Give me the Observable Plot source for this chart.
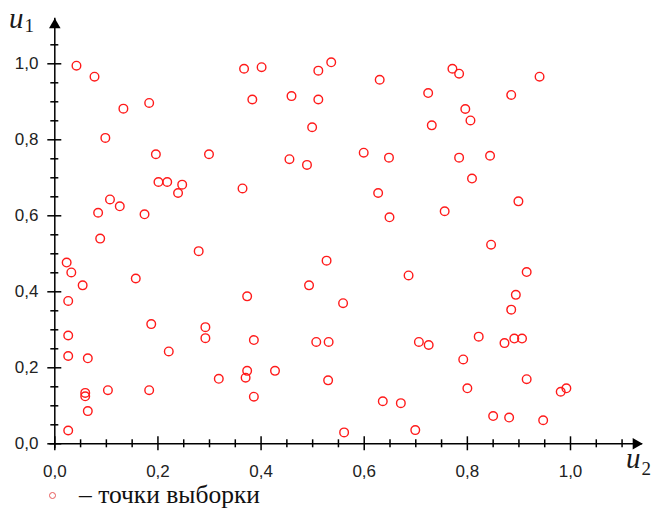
<!DOCTYPE html>
<html><head><meta charset="utf-8">
<script src="https://cdn.jsdelivr.net/npm/d3@7"></script>
<script src="https://cdn.jsdelivr.net/npm/@observablehq/plot@0.6"></script>
<style>
body{margin:0;background:#fff;overflow:hidden;}
#chart{position:relative;width:652px;}
.legend{position:relative;width:652px;height:23px;font-family:"Liberation Serif","Times New Roman",serif;font-size:25.5px;line-height:26px;color:#111;}
.legend .sw{position:absolute;left:49px;top:6px;width:5px;height:5px;border:1px solid #e85a5a;border-radius:50%;}
.legend .lt{position:absolute;left:79px;top:-4.4px;white-space:nowrap;}
</style></head><body>
<div id="chart"></div>
<div class="legend"><span class="sw"></span><span class="lt">– точки выборки</span></div>
<script>
// sample points (u2 horizontal, u1 vertical)
const u2 = [0.042,0.077,0.133,0.183,0.098,0.196,0.299,0.367,0.401,0.511,
            0.536,0.630,0.383,0.459,0.511,0.499,0.455,0.489,0.599,0.648,
            0.771,0.784,0.940,0.724,0.885,0.796,0.806,0.731,0.784,0.844,
            0.201,0.218,0.247,0.239,0.107,0.126,0.084,0.174,0.088,0.279,
            0.023,0.032,0.157,0.054,0.026,0.364,0.627,0.649,0.527,0.686,
            0.493,0.373,0.559,0.809,0.899,0.756,0.846,0.915,0.894,0.885,
            0.187,0.292,0.292,0.026,0.221,0.026,0.064,0.318,0.059,0.059,
            0.103,0.183,0.064,0.026,0.386,0.507,0.531,0.706,0.373,0.370,
            0.427,0.530,0.386,0.636,0.671,0.561,0.699,0.725,0.822,0.872,
            0.891,0.906,0.792,0.915,0.800,0.981,0.992,0.850,0.881,0.947];
const u1 = [0.995,0.966,0.882,0.897,0.805,0.762,0.762,0.987,0.991,0.982,
            1.004,0.958,0.906,0.915,0.906,0.833,0.749,0.734,0.766,0.753,
            0.987,0.974,0.966,0.923,0.918,0.881,0.851,0.838,0.753,0.758,
            0.689,0.689,0.682,0.660,0.643,0.625,0.608,0.604,0.540,0.507,
            0.477,0.451,0.435,0.417,0.376,0.672,0.660,0.596,0.482,0.443,
            0.417,0.388,0.370,0.698,0.638,0.612,0.524,0.452,0.392,0.353,
            0.315,0.307,0.278,0.285,0.243,0.231,0.225,0.171,0.134,0.125,
            0.141,0.141,0.086,0.035,0.273,0.268,0.268,0.268,0.192,0.174,
            0.192,0.167,0.124,0.112,0.107,0.030,0.036,0.260,0.282,0.265,
            0.277,0.277,0.222,0.170,0.146,0.137,0.146,0.073,0.069,0.062];

const xMajor = [0, 0.2, 0.4, 0.6, 0.8, 1.0];
const xLabels = ["0,0", "0,2", "0,4", "0,6", "0,8", "1,0"];
const xMinor = [0.05,0.1,0.15,0.25,0.3,0.35,0.45,0.5,0.55,0.65,0.7,0.75,0.85,0.9,0.95,1.05,1.1];
const yMajor = [0, 0.2, 0.4, 0.6, 0.8, 1.0];
const yLabels = ["0,0", "0,2", "0,4", "0,6", "0,8", "1,0"];
const yMinor = [0.05,0.1,0.15,0.25,0.3,0.35,0.45,0.5,0.55,0.65,0.7,0.75,0.85,0.9,0.95,1.05];
const xMax = 1.14, yMax = 1.12;

const pts = u2.map((x, i) => ({u2: x, u1: u1[i]}));
const fx = d => xLabels[xMajor.indexOf(d)];
const fy = d => yLabels[yMajor.indexOf(d)];

const plot = Plot.plot({
  width: 652, height: 486,
  marginLeft: 54.3, marginRight: 9.8, marginTop: 17.7, marginBottom: 42.7,
  x: {domain: [0, xMax], label: null},
  y: {domain: [0, yMax], label: null},
  style: {fontFamily: "'Liberation Sans', Arial, sans-serif", fontSize: "17px", color: "#222", background: "#fff"},
  marks: [
    Plot.ruleY([0], {x1: 0, x2: xMax, insetLeft: -5, stroke: "#000", strokeWidth: 1.5}),
    Plot.ruleX([0], {y1: yMax, y2: 0, insetBottom: -5, stroke: "#000", strokeWidth: 1.5}),
    Plot.ruleX(xMinor, {x: d => d, y1: 0, y2: 0, insetTop: -4, insetBottom: -4, stroke: "#000", strokeWidth: 1.5}),
    Plot.ruleX(xMajor, {x: d => d, y1: 0, y2: 0, insetTop: -7, insetBottom: -7, stroke: "#000", strokeWidth: 1.5}),
    Plot.ruleY(yMinor, {y: d => d, x1: 0, x2: 0, insetLeft: -4, insetRight: -4, stroke: "#000", strokeWidth: 1.5}),
    Plot.ruleY(yMajor, {y: d => d, x1: 0, x2: 0, insetLeft: -7, insetRight: -7, stroke: "#000", strokeWidth: 1.5}),
    Plot.dot([yMax], {x: 0, y: d => d, symbol: "triangle", r: 4.3, fill: "#000", stroke: "none", dy: 6.67}),
    Plot.dot([xMax], {x: d => d, y: 0, symbol: "triangle", r: 4.3, fill: "#000", stroke: "none", rotate: 90, dx: -6.67}),
    Plot.axisX(xMajor, {tickSize: 0, tickPadding: 21, tickFormat: fx, label: null, color: "#222"}),
    Plot.axisY(yMajor, {tickSize: 0, tickPadding: 16.3, tickFormat: fy, label: null, color: "#222"}),
    Plot.dot(pts, {x: "u2", y: "u1", r: 4.3, stroke: "#ff1a1a", strokeWidth: 1.4, fill: "none"})
  ]
});
document.getElementById("chart").appendChild(plot);

const svg = d3.select(plot);
function axisTitle(x, y, sub, subDy) {
  const t = svg.append("text").attr("x", x).attr("y", y)
    .attr("text-anchor", "start")
    .attr("font-family", "'Liberation Serif','Times New Roman',serif")
    .attr("fill", "#1a1a1a");
  t.append("tspan").attr("font-style", "italic").attr("font-size", 29).text("u");
  t.append("tspan").attr("font-size", 19).attr("dx", 1).attr("dy", subDy).text(sub);
}
axisTitle(9, 28, "1", 4);
axisTitle(626, 468, "2", 7);
</script>
</body></html>
